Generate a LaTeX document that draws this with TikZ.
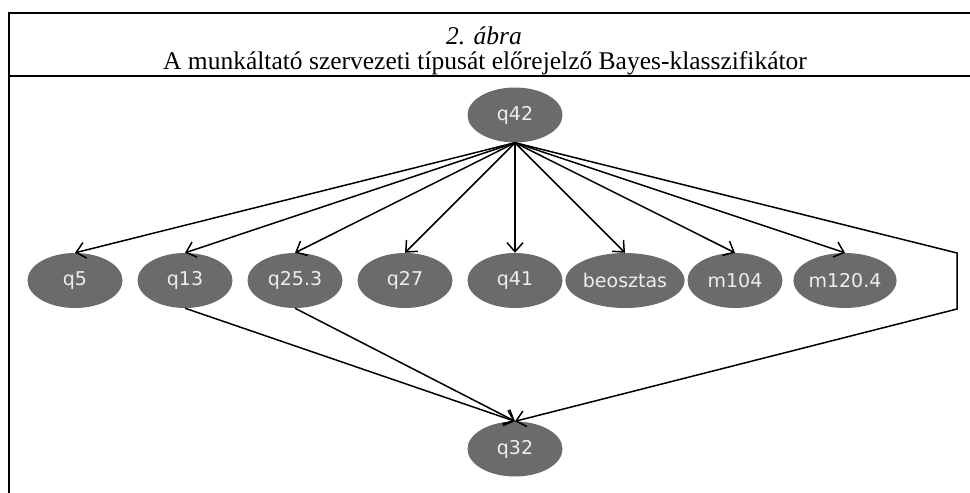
\documentclass[tikz,border=0pt]{standalone}
\usepackage{fontspec}
\setmainfont{Liberation Serif}
\newfontfamily\nodefont{DejaVu Sans}
\usetikzlibrary{arrows.meta,shapes.geometric}
\definecolor{nodegray}{HTML}{6B6B6B}
\definecolor{nodetext}{HTML}{EEEEEE}
\tikzset{
  bnode/.style={ellipse, fill=nodegray, minimum width=95pt, minimum height=55pt, inner sep=0pt,
    text=nodetext, font=\nodefont\fontsize{19}{19}\selectfont},
  edge/.style={line width=1.5pt, -{Straight Barb[length=9pt,width=16pt,line width=1.5pt]}},
  frame/.style={line width=2pt},
  titletext/.style={font=\fontsize{25.5}{25.5}\selectfont, inner sep=0pt, anchor=base}
}
\begin{document}
\begin{tikzpicture}[x=1pt,y=-1pt]
\useasboundingbox (0,0) rectangle (970,493);
\draw[frame] (970,13) -- (9,13) -- (9,493);
\draw[frame] (9,76) -- (970,76);
\node[titletext] (t1) at (484,44) {\textit{2. ábra}};
\node[titletext] (t2) at (485,69) {A munkáltató szervezeti típusát előrejelző Bayes-klasszifikátor};

\node[bnode] (q42) at (515,115) {q42};
\node[bnode] (q5) at (75,280.5) {q5};
\node[bnode] (q13) at (185,280.5) {q13};
\node[bnode] (q253) at (295,280.5) {q25.3};
\node[bnode] (q27) at (405,280.5) {q27};
\node[bnode] (q41) at (515,280.5) {q41};
\node[bnode] (beo) at (625,280.5) {beosztas};
\node[bnode] (m104) at (735,280.5) {m104};
\node[bnode] (m1204) at (845,280.5) {m120.4};
\node[bnode] (q32) at (515,449) {q32};
\coordinate (c1) at (957,253);
\coordinate (c2) at (957,309);

\foreach \t in {q5,q13,q253,q27,q41,beo,m104,m1204}
  \draw[edge] (q42.south) -- (\t.north);
\draw[edge] (q13.south) -- (q32.north);
\draw[edge] (q253.south) -- (q32.north);
\draw[edge, line join=miter] (q42.south) -- (c1) -- (c2) -- (q32.north);
\end{tikzpicture}
\end{document}
